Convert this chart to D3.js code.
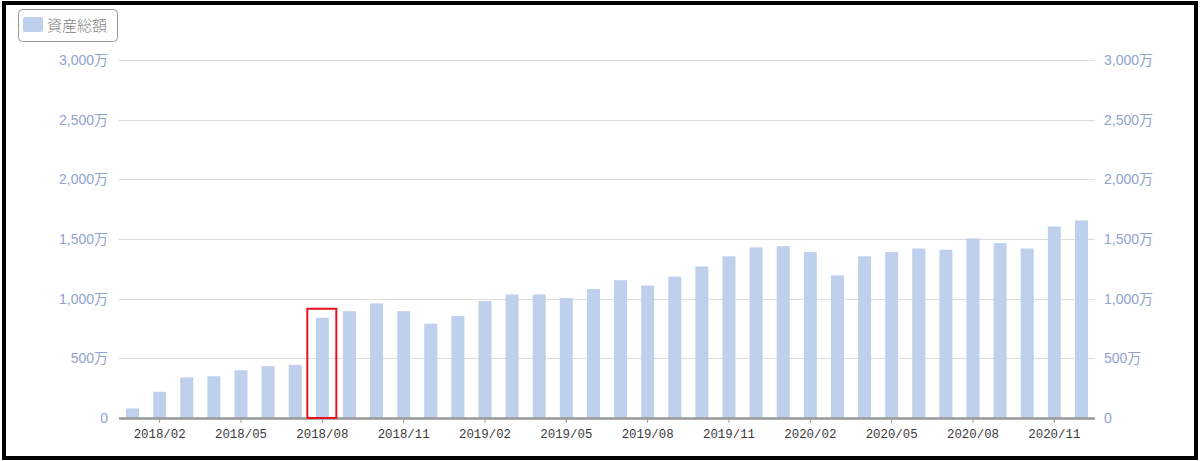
<!DOCTYPE html>
<html><head><meta charset="utf-8">
<script src="https://cdn.jsdelivr.net/npm/d3@7"></script>
<style>
html,body{margin:0;padding:0;background:#fff;}
svg{display:block;}
</style></head>
<body>
<svg id="c" width="1200" height="461"></svg>
<script>
const months = [
 "2018/01","2018/02","2018/03","2018/04","2018/05","2018/06","2018/07","2018/08","2018/09","2018/10","2018/11","2018/12",
 "2019/01","2019/02","2019/03","2019/04","2019/05","2019/06","2019/07","2019/08","2019/09","2019/10","2019/11","2019/12",
 "2020/01","2020/02","2020/03","2020/04","2020/05","2020/06","2020/07","2020/08","2020/09","2020/10","2020/11","2020/12"];
const totalAssets = [80,220,340,350,400,435,445,840,895,960,895,790,855,980,1035,1035,1005,1080,1155,1110,1185,1270,1355,1430,1440,1390,1195,1355,1390,1420,1410,1505,1465,1420,1605,1655];
const yTicks = [0,500,1000,1500,2000,2500,3000];
const xTickLabels = ["2018/02","2018/05","2018/08","2018/11","2019/02","2019/05","2019/08","2019/11","2020/02","2020/05","2020/08","2020/11"];
const seriesName = "資産総額";
const highlightMonth = "2018/08";

(function () {
const svg = d3.select("#c");
const pLeft = 119, pRight = 1095, pTop = 60, pBottom = 418;

const x = d3.scaleBand().domain(months).range([pLeft, pRight]).paddingInner(0.52).paddingOuter(0.26);
const y = d3.scaleLinear().domain([0, 3000]).range([pBottom, pTop]);

// gridlines
svg.append("g").selectAll("line").data(yTicks.filter(d => d > 0)).join("line")
  .attr("x1", pLeft).attr("x2", pRight)
  .attr("y1", d => Math.round(y(d)) + 0.5).attr("y2", d => Math.round(y(d)) + 0.5)
  .attr("stroke", "#dcdcdc").attr("stroke-width", 1);

const fmt = d => d === 0 ? "0" : d3.format(",")(d) + "万";
const labelFont = "'Liberation Sans', 'Noto Sans CJK JP', sans-serif";

// left axis labels
svg.append("g").selectAll("text").data(yTicks).join("text")
  .attr("x", 108).attr("y", d => y(d) + 5)
  .attr("text-anchor", "end")
  .attr("font-family", labelFont).attr("font-size", 14)
  .attr("fill", "#91a2cf")
  .text(fmt);
// right axis labels
svg.append("g").selectAll("text").data(yTicks).join("text")
  .attr("x", 1104).attr("y", d => y(d) + 5)
  .attr("text-anchor", "start")
  .attr("font-family", labelFont).attr("font-size", 14)
  .attr("fill", "#91a2cf")
  .text(fmt);

// bars
svg.append("g").selectAll("rect").data(months).join("rect")
  .attr("x", d => x(d)).attr("width", x.bandwidth())
  .attr("y", (d, i) => y(totalAssets[i]))
  .attr("height", (d, i) => y(0) - y(totalAssets[i]))
  .attr("fill", "#bfd0ec");

// baseline
svg.append("line").attr("x1", pLeft).attr("x2", pRight)
  .attr("y1", pBottom + 0.5).attr("y2", pBottom + 0.5)
  .attr("stroke", "#999").attr("stroke-width", 2.5);

// x ticks and labels
const xg = svg.append("g");
xg.selectAll("line").data(xTickLabels).join("line")
  .attr("x1", d => x(d) + x.bandwidth() / 2).attr("x2", d => x(d) + x.bandwidth() / 2)
  .attr("y1", pBottom).attr("y2", pBottom + 5)
  .attr("stroke", "#999").attr("stroke-width", 1);
xg.selectAll("text").data(xTickLabels).join("text")
  .attr("x", d => x(d) + x.bandwidth() / 2).attr("y", 438)
  .attr("text-anchor", "middle")
  .attr("font-family", "'Liberation Mono', monospace").attr("font-size", 12.4)
  .attr("fill", "#3a3a3a")
  .text(d => d);

// highlight rectangle
const hi = months.indexOf(highlightMonth);
svg.append("rect")
  .attr("x", x(highlightMonth) - 8.5).attr("width", x.bandwidth() + 16)
  .attr("y", y(totalAssets[hi]) - 9).attr("height", y(0) - y(totalAssets[hi]) + 9)
  .attr("fill", "none").attr("stroke", "#e8131c").attr("stroke-width", 2);

// legend
const lg = svg.append("g");
lg.append("rect").attr("x", 18.5).attr("y", 9.5).attr("width", 99).attr("height", 32)
  .attr("rx", 4).attr("fill", "#fff").attr("stroke", "#999").attr("stroke-width", 1);
lg.append("rect").attr("x", 23).attr("y", 17).attr("width", 20).attr("height", 15)
  .attr("rx", 2).attr("fill", "#bfd0ec");
lg.append("text").attr("x", 47).attr("y", 30.5)
  .attr("font-family", "'Noto Sans CJK JP', sans-serif").attr("font-size", 15)
  .attr("font-weight", 300)
  .attr("fill", "#808080").text(seriesName);

// outer frame
svg.append("rect").attr("x", 4).attr("y", 3).attr("width", 1192).attr("height", 455)
  .attr("fill", "none").attr("stroke", "#000").attr("stroke-width", 4);
})();
</script>
</body></html>
